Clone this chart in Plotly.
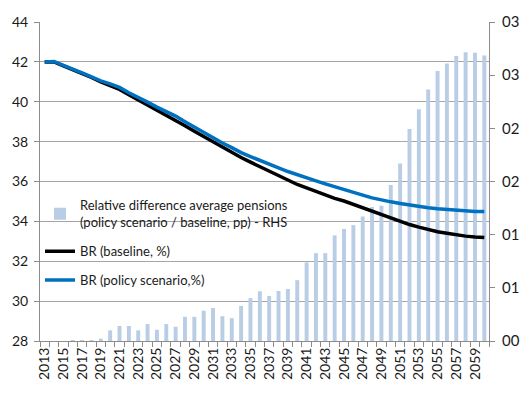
import plotly.graph_objects as go

# Years on the category axis
years = list(range(2013, 2061))

# Relative difference in average pensions (policy / baseline, pp) - right-hand scale
rel_diff = [
    0.0, 0.0, 0.0, 0.00005, 0.00005, 0.00005, 0.00023, 0.00100, 0.00141, 0.00141,
    0.00100, 0.00159, 0.00106, 0.00159, 0.00134, 0.00227, 0.00227, 0.00285, 0.00310, 0.00233,
    0.00215, 0.00329, 0.00403, 0.00468, 0.00424, 0.00470, 0.00489, 0.00572, 0.00739, 0.00826,
    0.00826, 0.00993, 0.01054, 0.01090, 0.01171, 0.01260, 0.01273, 0.01468, 0.01669, 0.01993,
    0.02180, 0.02366, 0.02540, 0.02610, 0.02680, 0.02715, 0.02710, 0.02685,
]

# Benefit ratio, baseline (%)
br_baseline = [
    42.00, 42.00, 41.80, 41.62, 41.42, 41.22, 41.00, 40.82, 40.62, 40.35,
    40.10, 39.85, 39.58, 39.33, 39.08, 38.80, 38.52, 38.25, 37.98, 37.70,
    37.45, 37.20, 36.97, 36.75, 36.50, 36.28, 36.05, 35.85, 35.68, 35.50,
    35.32, 35.15, 35.02, 34.85, 34.67, 34.50, 34.32, 34.15, 33.98, 33.84,
    33.71, 33.59, 33.48, 33.40, 33.32, 33.26, 33.22, 33.19,
]

# Benefit ratio, policy scenario (%)
br_policy = [
    42.00, 42.02, 41.82, 41.65, 41.45, 41.25, 41.05, 40.90, 40.72, 40.45,
    40.23, 39.98, 39.73, 39.50, 39.28, 39.00, 38.72, 38.45, 38.20, 37.93,
    37.70, 37.45, 37.25, 37.05, 36.87, 36.68, 36.50, 36.33, 36.20, 36.03,
    35.88, 35.73, 35.60, 35.45, 35.32, 35.18, 35.07, 34.98, 34.90, 34.82,
    34.75, 34.68, 34.63, 34.59, 34.55, 34.52, 34.50, 34.50,
]

# Axis tick labels
x_tick_years = list(range(2013, 2061, 2))
x_tick_text = [str(y) for y in x_tick_years]
left_ticks = list(range(28, 45, 2))
right_tick_vals = [0.0, 0.005, 0.010, 0.015, 0.020, 0.025, 0.030]
right_tick_text = ["00", "01", "01", "02", "02", "03", "03"]

FONT = "Lato, Carlito, Calibri, sans-serif"
AXIS_GREY = "#8c8c8c"
GRID_GREY = "#a6a6a6"

fig = go.Figure()

fig.add_trace(go.Bar(
    x=years, y=rel_diff, yaxis="y",
    name="Relative difference average pensions<br>(policy scenario / baseline, pp) - RHS",
    marker=dict(color="#b9cde5", line=dict(width=0)),
    legendgroup="a",
))
fig.add_trace(go.Scatter(
    x=years, y=br_baseline, yaxis="y2", mode="lines",
    name="BR (baseline, %)",
    line=dict(color="#000000", width=3.5),
    legendgroup="b",
))
fig.add_trace(go.Scatter(
    x=years, y=br_policy, yaxis="y2", mode="lines",
    name="BR (policy scenario,%)",
    line=dict(color="#0070c0", width=3.5),
    legendgroup="c",
))

fig.update_layout(
    width=532, height=393,
    margin=dict(l=40, r=28, t=17, b=52),
    paper_bgcolor="white", plot_bgcolor="white",
    font=dict(family=FONT, size=14, color="#1a1a1a"),
    bargap=0.58,
    showlegend=True,
    legend=dict(
        x=0.0, y=0.472, xanchor="left", yanchor="top",
        bgcolor="rgba(0,0,0,0)", borderwidth=0,
        font=dict(family=FONT, size=13, color="#1a1a1a"),
        tracegroupgap=9, traceorder="grouped",
    ),
    xaxis=dict(
        range=[2012.5, 2060.5],
        tickmode="array", tickvals=x_tick_years, ticktext=x_tick_text,
        tickangle=-90, ticks="", showgrid=False,
        showline=True, linecolor=AXIS_GREY, linewidth=1,
        minor=dict(tickmode="linear", tick0=2012.5, dtick=1,
                   ticks="outside", ticklen=5, tickcolor=AXIS_GREY, showgrid=False),
        tickfont=dict(size=14), zeroline=False,
    ),
    yaxis=dict(
        side="right", range=[0, 0.03],
        tickmode="array", tickvals=right_tick_vals, ticktext=right_tick_text,
        ticks="outside", ticklen=5, tickcolor=AXIS_GREY,
        ticklabelstandoff=4,
        showgrid=False, zeroline=False,
        showline=True, linecolor=AXIS_GREY, linewidth=1,
        tickfont=dict(size=15),
    ),
    yaxis2=dict(
        side="left", overlaying="y", range=[28, 44],
        tickmode="array", tickvals=left_ticks,
        ticks="outside", ticklen=5, tickcolor=AXIS_GREY,
        ticklabelstandoff=3,
        showgrid=True, gridcolor=GRID_GREY, gridwidth=1,
        zeroline=False,
        showline=True, linecolor=AXIS_GREY, linewidth=1,
        tickfont=dict(size=14),
    ),
)

fig.write_html("out.html")
